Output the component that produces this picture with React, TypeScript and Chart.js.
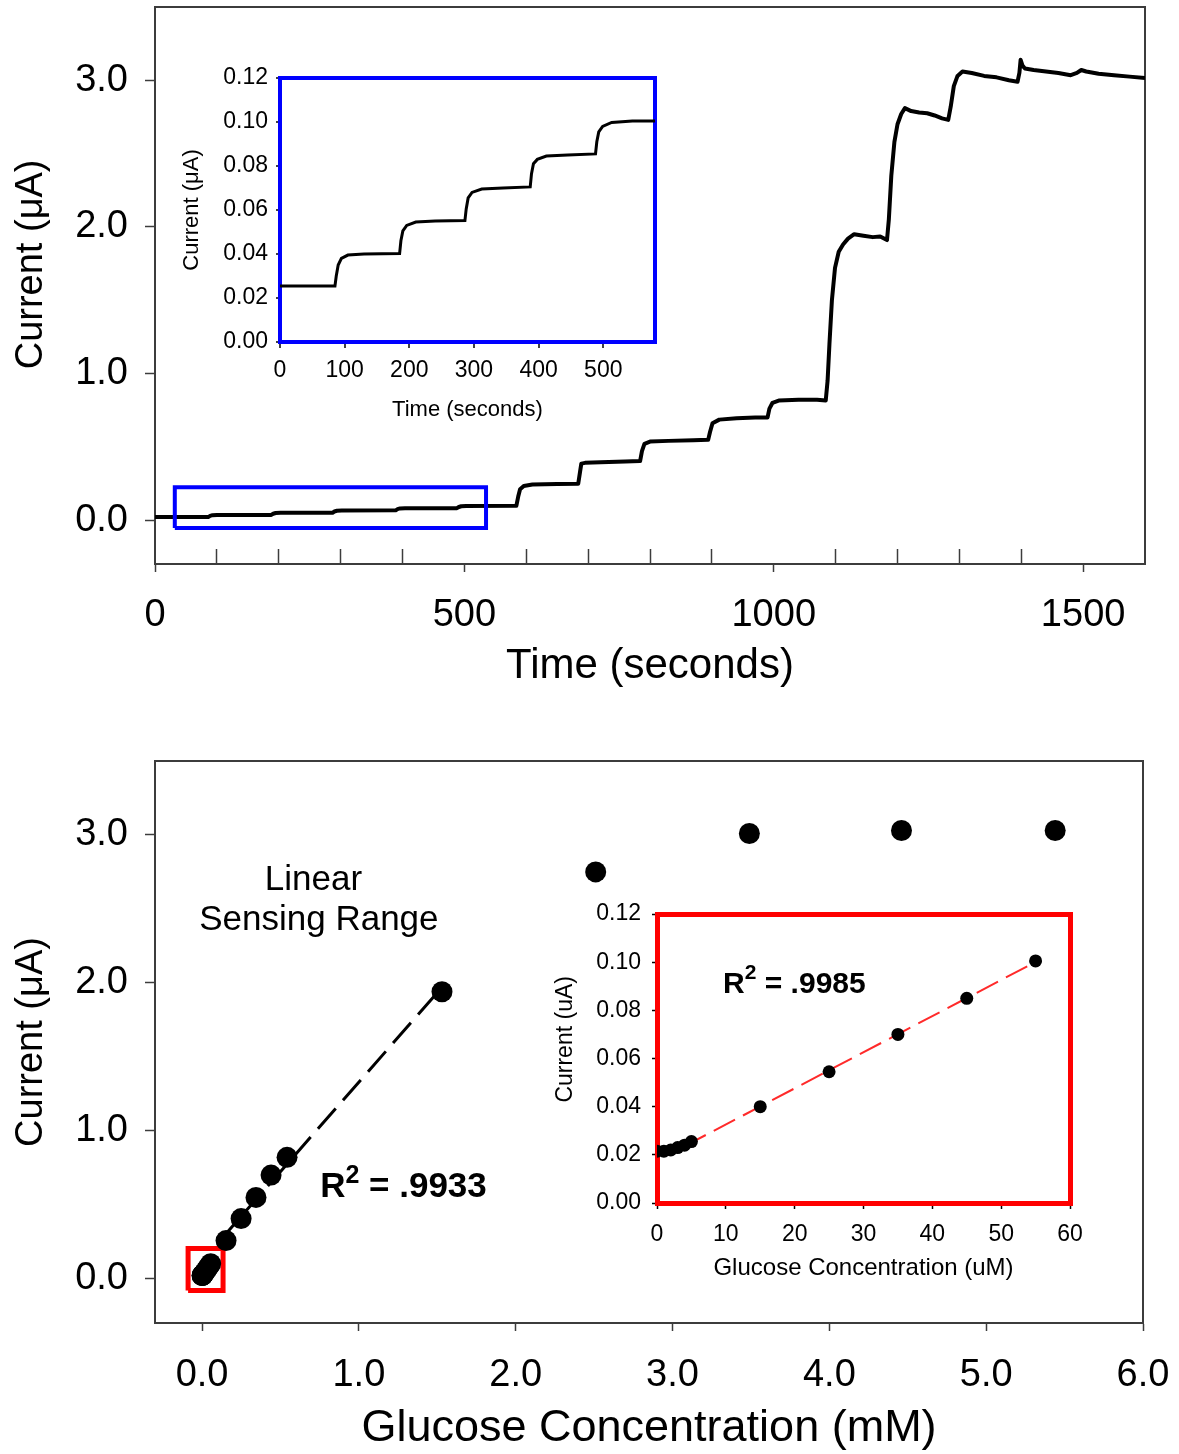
import React, { useEffect, useRef } from "react";
import { Chart, registerables } from "chart.js";

Chart.register(...registerables);

const FONT_FAMILY = "'Liberation Sans', Arial, Helvetica, sans-serif";
Chart.defaults.font.family = FONT_FAMILY;
Chart.defaults.color = "#000";

// ================= DATA =================
// Top panel: amperometric trace, [time (s), current (µA)]
const mainTrace: [number, number][] = [
  [0, 0.02], [86, 0.02], [89, 0.028], [93, 0.033], [100, 0.035],
  [188, 0.035], [191, 0.043], [195, 0.048], [203, 0.05],
  [287, 0.05], [290, 0.058], [294, 0.063], [302, 0.065],
  [389, 0.066], [392, 0.074], [396, 0.079], [404, 0.081],
  [488, 0.081], [491, 0.089], [495, 0.094], [503, 0.096],
  [584, 0.097], [587, 0.16], [590, 0.21], [596, 0.232], [610, 0.242], [650, 0.245],
  [684, 0.247], [687, 0.33], [689, 0.385], [695, 0.39], [720, 0.395], [760, 0.4],
  [784, 0.402], [787, 0.47], [791, 0.52], [800, 0.535], [830, 0.54], [870, 0.545],
  [894, 0.547], [897, 0.6], [901, 0.66], [912, 0.685], [940, 0.695], [970, 0.7],
  [990, 0.7], [993, 0.76], [998, 0.8], [1008, 0.815], [1040, 0.82], [1070, 0.82],
  [1084, 0.815], [1087, 0.95], [1090, 1.2], [1094, 1.5], [1099, 1.72], [1105, 1.83],
  [1112, 1.88], [1120, 1.92], [1130, 1.95], [1145, 1.94], [1160, 1.93], [1172, 1.935],
  [1183, 1.91], [1186, 2.05], [1190, 2.35], [1195, 2.58], [1200, 2.7], [1206, 2.77],
  [1212, 2.81], [1222, 2.79], [1235, 2.78], [1248, 2.775], [1260, 2.76], [1272, 2.74],
  [1282, 2.73], [1286, 2.82], [1291, 2.96], [1297, 3.03], [1305, 3.06], [1320, 3.05],
  [1340, 3.03], [1360, 3.02], [1380, 3.0], [1394, 2.99], [1397, 3.05], [1399, 3.14],
  [1402, 3.1], [1406, 3.08], [1420, 3.07], [1440, 3.06], [1460, 3.05], [1480, 3.035],
  [1490, 3.05], [1497, 3.07], [1505, 3.06], [1525, 3.045], [1550, 3.035], [1575, 3.025],
  [1600, 3.015],
];

// Top inset: first ~580 s, [time (s), current (µA)]
const insetTrace: [number, number][] = [
  [0, 0.0255], [85, 0.0255], [87, 0.03], [90, 0.035], [95, 0.038], [105, 0.0395], [130, 0.04], [185, 0.0402],
  [187, 0.046], [190, 0.0505], [196, 0.053], [210, 0.0545], [240, 0.055], [286, 0.0552],
  [288, 0.0605], [291, 0.0655], [297, 0.068], [312, 0.0695], [345, 0.07], [387, 0.0705],
  [389, 0.0765], [392, 0.081], [398, 0.083], [412, 0.0845], [445, 0.085], [488, 0.0855],
  [490, 0.091], [493, 0.0955], [499, 0.098], [513, 0.0998], [545, 0.1005], [580, 0.1005],
];

// Highlight box drawn on the main trace
const zoomBoxTime = [32, 535];
const zoomBoxCurrent = [-0.054, 0.224];

// Bottom panel: calibration points
const glucoseMM = [0, 0.001, 0.002, 0.003, 0.004, 0.005, 0.015, 0.025, 0.035, 0.045, 0.055,
  0.153, 0.249, 0.344, 0.44, 0.542, 1.53, 2.51, 3.49, 4.46, 5.44];
const calibCurrent = [0.0215, 0.0215, 0.022, 0.023, 0.024, 0.0255, 0.04, 0.0545, 0.07, 0.085, 0.1005,
  0.257, 0.406, 0.549, 0.7, 0.82, 1.94, 2.75, 3.01, 3.03, 3.03];
const fitMM = [0.1, 1.53];
const fitCurrent = [0.24, 1.97];
const redBoxMM = [-0.089, 0.134];
const redBoxCurrent = [-0.081, 0.203];

// Bottom inset (µM)
const insetGlucoseUM = [0, 1, 2, 3, 4, 5, 15, 25, 35, 45, 55];
const insetCalibCurrent = [0.0215, 0.0215, 0.022, 0.023, 0.024, 0.0255, 0.04, 0.0545, 0.07, 0.085, 0.1005];
const insetFitUM = [4, 55];
const insetFitCurrent = [0.0236, 0.1001];

// Tick values
const timeMajorTicks = [0, 500, 1000, 1500];
const timeMinorTicks = [100, 200, 300, 400, 600, 700, 800, 900, 1100, 1200, 1300, 1400];
const currentTicks = [0, 1, 2, 3];
const insetTimeTicks = [0, 100, 200, 300, 400, 500];
const insetCurrentTicks = [0, 0.02, 0.04, 0.06, 0.08, 0.1, 0.12];
const glucoseTicks = [0, 1, 2, 3, 4, 5, 6];
const insetGlucoseTicks = [0, 10, 20, 30, 40, 50, 60];

// Text
const linearLabel = ["Linear", "Sensing Range"];
const r2Main = ".9933";
const r2Inset = ".9985";

// ================= HELPERS =================
const GREY = "#3c3c3c";
const BLUE = "#0000ff";
const RED = "#ff0000";

const clearPadding = (s: any) => { s.paddingTop = 0; s.paddingBottom = 0; s.paddingLeft = 0; s.paddingRight = 0; };
const setWidth = (w: number) => (s: any) => { s.width = w; clearPadding(s); };
const setHeight = (h: number) => (s: any) => { s.height = h; clearPadding(s); };
const useTicks = (vals: number[]) => (s: any) => { s.ticks = vals.map((value) => ({ value })); };
const pairs = (xs: number[], ys: number[]) => xs.map((x, i) => ({ x, y: ys[i] }));
const boxPath = (xr: number[], yr: number[]) => [
  { x: xr[0], y: yr[0] }, { x: xr[1], y: yr[0] }, { x: xr[1], y: yr[1] }, { x: xr[0], y: yr[1] }, { x: xr[0], y: yr[0] },
];

function frameScale(position: string, min: number, max: number, color: string, width: number) {
  const horizontal = position === "top" || position === "bottom";
  return {
    type: "linear", position, min, max,
    ticks: { display: false },
    grid: { drawOnChartArea: false, drawTicks: false, lineWidth: width },
    border: { display: true, color, width },
    afterFit: horizontal ? setHeight(0) : setWidth(0),
  };
}

type TextPart = { text: string; size: number; bold?: boolean; rise?: number };
type TextItem = { x: number; y: number; align: "left" | "center"; parts: TextPart[] };

function makeTextPlugin(items: TextItem[]) {
  return {
    id: "panelText",
    afterDraw(chart: any) {
      const ctx = chart.ctx as CanvasRenderingContext2D;
      const xs = chart.scales.x;
      const ys = chart.scales.y;
      const fontOf = (p: TextPart) => `${p.bold ? "bold " : ""}${p.size}px ${FONT_FAMILY}`;
      items.forEach((item) => {
        ctx.save();
        ctx.fillStyle = "#000";
        ctx.textBaseline = "middle";
        ctx.textAlign = "left";
        let total = 0;
        item.parts.forEach((p) => { ctx.font = fontOf(p); total += ctx.measureText(p.text).width; });
        let cx = xs.getPixelForValue(item.x);
        if (item.align === "center") cx -= total / 2;
        const cy = ys.getPixelForValue(item.y);
        item.parts.forEach((p) => {
          ctx.font = fontOf(p);
          ctx.fillText(p.text, cx, cy - (p.rise || 0));
          cx += ctx.measureText(p.text).width;
        });
        ctx.restore();
      });
    },
  };
}

const baseOptions = (padding: any) => ({
  responsive: false,
  animation: false,
  events: [],
  layout: { padding },
  plugins: { legend: { display: false }, tooltip: { enabled: false } },
});

// ================= CONFIGS =================
function topMainConfig(): any {
  return {
    type: "line",
    data: {
      datasets: [
        { data: boxPath(zoomBoxTime, zoomBoxCurrent), borderColor: BLUE, borderWidth: 4, pointRadius: 0, borderJoinStyle: "miter", fill: false },
        { data: mainTrace.map(([x, y]) => ({ x, y })), borderColor: "#000", borderWidth: 4, pointRadius: 0, fill: false, borderJoinStyle: "round" },
      ],
    },
    options: {
      ...baseOptions({ left: 0, top: 7, right: 34, bottom: 0 }),
      scales: {
        xMinor: {
          type: "linear", position: "bottom", min: 0, max: 1600, weight: 0,
          afterBuildTicks: useTicks(timeMinorTicks),
          afterFit: setHeight(0),
          ticks: { display: false },
          grid: { drawOnChartArea: false, drawTicks: true, tickLength: -15, tickColor: GREY, tickWidth: 1.5 },
          border: { display: false },
        },
        x: {
          type: "linear", position: "bottom", min: 0, max: 1600, weight: 1,
          afterBuildTicks: useTicks(timeMajorTicks),
          afterFit: setHeight(136),
          ticks: { font: { size: 38 }, color: "#000", padding: 21, autoSkip: false, maxRotation: 0, callback: (v: any) => String(v) },
          grid: { drawOnChartArea: false, drawTicks: true, tickLength: 8, tickColor: GREY, tickWidth: 1.5 },
          border: { color: GREY, width: 2 },
          title: { display: true, text: "Time (seconds)", font: { size: 42 }, color: "#000", padding: { bottom: 8 } },
        },
        xTop: frameScale("top", 0, 1600, GREY, 2),
        y: {
          type: "linear", position: "left", min: -0.3, max: 3.5,
          afterBuildTicks: useTicks(currentTicks),
          afterFit: setWidth(155),
          ticks: { font: { size: 38 }, color: "#000", padding: 17, callback: (v: any) => Number(v).toFixed(1) },
          grid: { drawOnChartArea: false, drawTicks: true, tickLength: 10, tickColor: GREY, tickWidth: 1.5 },
          border: { color: GREY, width: 2 },
          title: { display: true, text: "    Current (μA)", font: { size: 38 }, color: "#000", padding: { top: 9 } },
        },
        yRight: frameScale("right", -0.3, 3.5, GREY, 2),
      },
    },
  };
}

function topInsetConfig(): any {
  return {
    type: "line",
    data: {
      datasets: [
        { data: insetTrace.map(([x, y]) => ({ x, y })), borderColor: "#000", borderWidth: 3, pointRadius: 0, fill: false },
      ],
    },
    options: {
      ...baseOptions({ left: 0, top: 18, right: 25, bottom: 0 }),
      scales: {
        x: {
          type: "linear", position: "bottom", min: 0, max: 580,
          afterBuildTicks: useTicks(insetTimeTicks),
          afterFit: setHeight(88),
          ticks: { font: { size: 23 }, color: "#000", padding: 9, autoSkip: false, maxRotation: 0, callback: (v: any) => String(v) },
          grid: { drawOnChartArea: false, drawTicks: true, tickLength: 6, tickColor: "#000", tickWidth: 1.5, lineWidth: 4 },
          border: { color: BLUE, width: 4 },
          title: { display: true, text: "Time (seconds)", font: { size: 22 }, color: "#000", padding: { bottom: 7 } },
        },
        xTop: frameScale("top", 0, 580, BLUE, 4),
        y: {
          type: "linear", position: "left", min: 0, max: 0.12,
          afterBuildTicks: useTicks(insetCurrentTicks),
          afterFit: setWidth(130),
          ticks: { font: { size: 23 }, color: "#000", padding: 8, autoSkip: false, callback: (v: any) => Number(v).toFixed(2) },
          grid: { drawOnChartArea: false, drawTicks: true, tickLength: 4, tickColor: "#000", tickWidth: 1.5, lineWidth: 4 },
          border: { color: BLUE, width: 4 },
          title: { display: true, text: "Current (μA)", font: { size: 22 }, color: "#000", padding: { top: 29 } },
        },
        yRight: frameScale("right", 0, 0.12, BLUE, 4),
      },
    },
  };
}

function bottomMainConfig(): any {
  return {
    type: "line",
    data: {
      datasets: [
        { data: pairs(glucoseMM, calibCurrent), showLine: false, pointRadius: 10.5, pointBackgroundColor: "#000", pointBorderWidth: 0, borderColor: "#000" },
        { data: pairs(fitMM, fitCurrent), borderColor: "#000", borderWidth: 3, borderDash: [27, 11], pointRadius: 0, fill: false },
        { data: boxPath(redBoxMM, redBoxCurrent), borderColor: RED, borderWidth: 5, pointRadius: 0, borderJoinStyle: "miter", fill: false },
      ],
    },
    plugins: [
      makeTextPlugin([
        { x: 0.71, y: 2.69, align: "center", parts: [{ text: linearLabel[0], size: 35 }] },
        { x: 0.745, y: 2.42, align: "center", parts: [{ text: linearLabel[1], size: 35 }] },
        {
          x: 0.753, y: 0.62, align: "left",
          parts: [{ text: "R", size: 35, bold: true }, { text: "2", size: 25, bold: true, rise: 11 }, { text: " = " + r2Main, size: 35, bold: true }],
        },
      ]),
    ],
    options: {
      ...baseOptions({ left: 0, top: 21, right: 36, bottom: 0 }),
      scales: {
        x: {
          type: "linear", position: "bottom", min: -0.3, max: 6,
          afterBuildTicks: useTicks(glucoseTicks),
          afterFit: setHeight(131),
          ticks: { font: { size: 38 }, color: "#000", padding: 22, autoSkip: false, maxRotation: 0, callback: (v: any) => Number(v).toFixed(1) },
          grid: { drawOnChartArea: false, drawTicks: true, tickLength: 8, tickColor: GREY, tickWidth: 1.5 },
          border: { color: GREY, width: 2 },
          title: { display: true, text: "Glucose Concentration (mM)", font: { size: 45, lineHeight: 1.1 }, color: "#000", padding: { bottom: 1 } },
        },
        xTop: frameScale("top", -0.3, 6, GREY, 2),
        y: {
          type: "linear", position: "left", min: -0.3, max: 3.5,
          afterBuildTicks: useTicks(currentTicks),
          afterFit: setWidth(155),
          ticks: { font: { size: 38 }, color: "#000", padding: 17, callback: (v: any) => Number(v).toFixed(1) },
          grid: { drawOnChartArea: false, drawTicks: true, tickLength: 10, tickColor: GREY, tickWidth: 1.5 },
          border: { color: GREY, width: 2 },
          title: { display: true, text: "Current (μA)", font: { size: 38 }, color: "#000", padding: { top: 9 } },
        },
        yRight: frameScale("right", -0.3, 3.5, GREY, 2),
      },
    },
  };
}

function bottomInsetConfig(): any {
  return {
    type: "line",
    data: {
      datasets: [
        { data: pairs(insetGlucoseUM, insetCalibCurrent), showLine: false, pointRadius: 6.5, pointBackgroundColor: "#000", pointBorderWidth: 0, borderColor: "#000" },
        { data: pairs(insetFitUM, insetFitCurrent), borderColor: "#ff2a2a", borderWidth: 2, borderDash: [24, 9], pointRadius: 0, fill: false },
      ],
    },
    plugins: [
      makeTextPlugin([
        {
          x: 9.6, y: 0.0905, align: "left",
          parts: [{ text: "R", size: 30, bold: true }, { text: "2", size: 21, bold: true, rise: 12 }, { text: " = " + r2Inset, size: 30, bold: true }],
        },
      ]),
    ],
    options: {
      ...baseOptions({ left: 0, top: 24, right: 40, bottom: 0 }),
      scales: {
        x: {
          type: "linear", position: "bottom", min: 0, max: 60,
          afterBuildTicks: useTicks(insetGlucoseTicks),
          afterFit: setHeight(97),
          ticks: { font: { size: 23 }, color: "#000", padding: 12, autoSkip: false, maxRotation: 0, callback: (v: any) => String(v) },
          grid: { drawOnChartArea: false, drawTicks: true, tickLength: 6, tickColor: "#000", tickWidth: 1.5, lineWidth: 5 },
          border: { color: RED, width: 5 },
          title: { display: true, text: "Glucose Concentration (uM)", font: { size: 24 }, color: "#000", padding: { bottom: 17.6 } },
        },
        xTop: frameScale("top", 0, 60, RED, 5),
        y: {
          type: "linear", position: "left", min: 0, max: 0.12,
          afterBuildTicks: useTicks(insetCurrentTicks),
          afterFit: setWidth(127),
          ticks: { font: { size: 23 }, color: "#000", padding: 11, autoSkip: false, callback: (v: any) => Number(v).toFixed(2) },
          grid: { drawOnChartArea: false, drawTicks: true, tickLength: 5, tickColor: "#000", tickWidth: 1.5, lineWidth: 5 },
          border: { color: RED, width: 5 },
          title: { display: true, text: "      Current (uA)", font: { size: 23 }, color: "#000", padding: { top: 22 } },
        },
        yRight: frameScale("right", 0, 0.12, RED, 5),
      },
    },
  };
}

// ================= COMPONENTS =================
function ChartBox(props: { left: number; top: number; width: number; height: number; config: () => any }) {
  const { left, top, width, height, config } = props;
  const ref = useRef<HTMLCanvasElement | null>(null);
  useEffect(() => {
    if (!ref.current) return;
    const chart = new Chart(ref.current, config());
    return () => chart.destroy();
  }, []);
  return (
    <div style={{ position: "absolute", left, top, width, height }}>
      <canvas ref={ref} width={width} height={height} style={{ display: "block", width, height }} />
    </div>
  );
}

export default function App() {
  return (
    <div style={{ position: "absolute", left: 0, top: 0, width: 1179, height: 1454, overflow: "hidden", background: "#fff" }}>
      <ChartBox left={0} top={0} width={1179} height={700} config={topMainConfig} />
      <ChartBox left={150} top={60} width={530} height={370} config={topInsetConfig} />
      <ChartBox left={0} top={740} width={1179} height={714} config={bottomMainConfig} />
      <ChartBox left={530} top={890} width={580} height={410} config={bottomInsetConfig} />
    </div>
  );
}
